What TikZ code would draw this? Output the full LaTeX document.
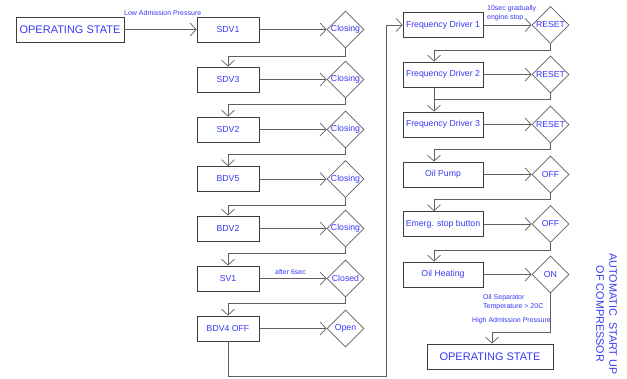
\documentclass[tikz,border=0pt]{standalone}
\usepackage{fontspec}
\setmainfont{Liberation Sans}
\usetikzlibrary{shapes.geometric,arrows.meta}
\definecolor{txt}{RGB}{55,55,245}
\definecolor{edge}{RGB}{95,95,95}
\definecolor{frame}{RGB}{60,60,60}
\begin{document}
\begin{tikzpicture}[x=1pt,y=-1pt,
  box/.style={draw=frame, line width=0.8pt, rectangle, minimum height=25pt, inner sep=0pt, text=txt, font=\fontsize{8.7}{10}\selectfont},
  bigbox/.style={box, font=\fontsize{11}{13}\selectfont},
  dia/.style={draw=edge, line width=0.8pt, diamond, minimum width=37pt, minimum height=37pt, inner sep=0pt, text=txt, font=\fontsize{8.7}{10}\selectfont},
  arr/.style={draw=edge, line width=0.7pt, -{Straight Barb[length=6pt,width=13pt,line width=0.7pt]}},
  conn/.style={draw=edge, line width=0.7pt},
  lbl/.style={text=txt, font=\fontsize{7}{9}\selectfont, inner sep=0pt}
]
\useasboundingbox (0,0) rectangle (627,379);

% left column
\node[bigbox, minimum width=108pt] (os1) at (70,29.5) {\makebox[0pt]{OPERATING STATE}};
\node[box, minimum width=62pt] (sdv1) at (228,29.5) {\makebox[0pt]{SDV1}};
\node[box, minimum width=62pt] (sdv3) at (228,79.5) {\makebox[0pt]{SDV3}};
\node[box, minimum width=62pt] (sdv2) at (228,129.5) {\makebox[0pt]{SDV2}};
\node[box, minimum width=62pt] (bdv5) at (228,179) {\makebox[0pt]{BDV5}};
\node[box, minimum width=62pt] (bdv2) at (228,228.5) {\makebox[0pt]{BDV2}};
\node[box, minimum width=62pt] (sv1) at (228,278.5) {\makebox[0pt]{SV1}};
\node[box, minimum width=62pt] (bdv4) at (228,328.5) {\makebox[0pt]{BDV4 OFF}};

\node[dia] (d1) at (345.5,29.5) {\makebox[0pt]{Closing}};
\node[dia] (d2) at (345.5,79.5) {\makebox[0pt]{Closing}};
\node[dia] (d3) at (345.5,129.5) {\makebox[0pt]{Closing}};
\node[dia] (d4) at (345.5,179) {\makebox[0pt]{Closing}};
\node[dia] (d5) at (345.5,228.5) {\makebox[0pt]{Closing}};
\node[dia] (d6) at (345.5,278.5) {\makebox[0pt]{Closed}};
\node[dia] (d7) at (345.5,328.5) {\makebox[0pt]{Open}};

% right column
\node[box, minimum width=80pt] (fd1) at (443,25) {\makebox[0pt]{Frequency Driver 1}};
\node[box, minimum width=80pt] (fd2) at (443,74.5) {\makebox[0pt]{Frequency Driver 2}};
\node[box, minimum width=80pt] (fd3) at (443,124.5) {\makebox[0pt]{Frequency Driver 3}};
\node[box, minimum width=80pt] (pump) at (443,174.5) {\makebox[0pt]{Oil Pump}};
\node[box, minimum width=80pt] (emerg) at (443,224) {\makebox[0pt]{Emerg. stop button}};
\node[box, minimum width=80pt] (heat) at (443,274.5) {\makebox[0pt]{Oil Heating}};
\node[bigbox, minimum width=126pt] (os2) at (490,356.5) {\makebox[0pt]{OPERATING STATE}};

\node[dia] (r1) at (550.5,25) {\makebox[0pt]{RESET}};
\node[dia] (r2) at (550.5,74.5) {\makebox[0pt]{RESET}};
\node[dia] (r3) at (550.5,124.5) {\makebox[0pt]{RESET}};
\node[dia] (r4) at (550.5,174.5) {\makebox[0pt]{OFF}};
\node[dia] (r5) at (550.5,224) {\makebox[0pt]{OFF}};
\node[dia] (r6) at (550.5,274.5) {\makebox[0pt]{ON}};

% labels
\node[lbl, anchor=west] (l1) at (124,13) {Low Admission Pressure};
\node[lbl] (l2) at (290.5,272.5) {after 6sec};
\node[lbl, anchor=north west, align=left] (l3) at (487,5.5) {10sec gradually\\engine stop};
\node[lbl, anchor=north west, align=left] (l4) at (483,294) {Oil Separator\\Temperature > 20C};
\node[lbl, anchor=east] (l5) at (551,320.5) {High Admission Pressure};
\node[rotate=-90, align=center, text=txt, font=\fontsize{10.8}{13}\selectfont, inner sep=0pt] (title) at (606.5,314) {AUTOMATIC\ \ START UP\\OF COMPRESSOR};

% left connectors
\draw[arr] (os1) -- (sdv1);
\foreach \b/\d in {sdv1/d1,sdv3/d2,sdv2/d3,bdv5/d4,bdv2/d5,sv1/d6,bdv4/d7}
  \draw[arr] (\b) -- (\d);
\draw[arr] (d1.south) -- ++(0,8) -| (sdv3.north);
\draw[arr] (d2.south) -- ++(0,6) -| (sdv2.north);
\draw[arr] (d3.south) -- ++(0,6) -| (bdv5.north);
\draw[arr] (d4.south) -- ++(0,7) -| (bdv2.north);
\draw[arr] (d5.south) -- ++(0,6) -| (sv1.north);
\draw[arr] (d6.south) -- ++(0,6) -| (bdv4.north);
\coordinate (c1) at (386,376);
\draw[arr] (bdv4.south) |- (c1) |- (fd1.west);

% right connectors
\foreach \b/\d in {fd1/r1,fd2/r2,fd3/r3,pump/r4,emerg/r5,heat/r6}
  \draw[arr] (\b) -- (\d);
\draw[arr] (r1.south) -- ++(0,6.5) -| ([xshift=-9pt]fd2.north);
\draw[arr] (r2.south) -- ++(0,5.5) -| ([xshift=-9pt]fd3.north);
\draw[conn] ([xshift=-9pt]fd2.south) -- ++(0,12.5);
\draw[arr] (r3.south) -- ++(0,6) -| ([xshift=-9pt]pump.north);
\draw[arr] (r4.south) -- ++(0,6) -| ([xshift=-9pt]emerg.north);
\draw[arr] (r5.south) -- ++(0,7) -| ([xshift=-9pt]heat.north);
\coordinate (c2) at (550.5,332);
\draw[arr] (r6.south) -- (c2) -| ([xshift=2pt]os2.north);
\end{tikzpicture}
\end{document}
